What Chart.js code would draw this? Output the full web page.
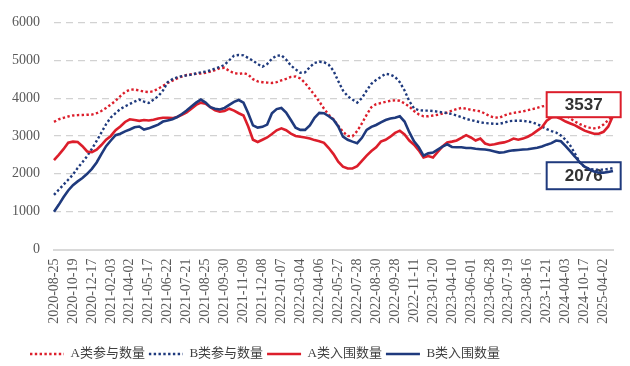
<!DOCTYPE html>
<html><head><meta charset="utf-8">
<script src="https://cdn.jsdelivr.net/npm/chart.js@4.4.1/dist/chart.umd.min.js"></script>
<style>html,body{margin:0;padding:0;background:#fff;}#wrap{width:630px;height:366px;}</style>
</head><body><div id="wrap"><canvas id="c" width="630" height="366"></canvas></div>
<script>
// ---- tick labels (dates shown on the x axis) ----
const tickLabels = ['2020-08-25','2020-10-19','2020-12-17','2021-02-03','2021-04-02','2021-05-17','2021-06-22','2021-07-21','2021-08-25','2021-09-30','2021-11-09','2021-12-08','2022-01-07','2022-03-04','2022-04-06','2022-05-27','2022-07-28','2022-08-30','2022-09-28','2022-11-11','2023-01-20','2023-04-10','2023-06-01','2023-06-28','2023-07-19','2023-08-16','2023-11-21','2024-04-03','2024-10-17','2025-04-02'];
const STEPS_PER_TICK = 4; // data points between two labelled dates
const seriesNames = ['A类参与数量','B类参与数量','A类入围数量','B类入围数量'];
const yTicks = [0,1000,2000,3000,4000,5000,6000];

// A类参与数量 (red dotted)
const aJoin = [3373,3440,3480,3515,3540,3550,3555,3560,3565,3600,3660,3740,3830,3930,4050,4160,4220,4230,4200,4170,4160,4180,4250,4320,
4400,4460,4520,4570,4610,4630,4640,4650,4670,4700,4740,4790,4800,4720,4660,4640,4660,4620,4500,4440,4420,4410,
4400,4420,4470,4510,4560,4570,4520,4400,4240,4080,3910,3720,3560,3440,3270,3110,3000,2990,3130,3330,3560,3760,3840,3870,
3900,3930,3940,3930,3860,3780,3660,3570,3520,3520,3540,3560,3590,3620,3670,3710,
3740,3720,3690,3670,3650,3590,3520,3490,3480,3540,3580,3610,3630,3650,3680,3710,3740,3780,3800,3790,3740,3640,3560,3460,3380,3310,3260,3220,3200,3220,3300,3420,3520];
// B类参与数量 (blue dotted)
const bJoin = [1443,1578,1711,1844,1978,2155,2307,2467,2662,2867,3089,3311,3489,3604,3711,3782,3844,3907,3960,3907,3870,3960,4049,4200,
4420,4500,4550,4580,4600,4620,4650,4680,4700,4730,4780,4820,4880,5000,5120,5140,5130,5060,4990,4900,4830,4900,
5040,5120,5130,5020,4860,4760,4670,4680,4820,4930,4960,4950,4880,4720,4450,4200,4050,3960,3880,4000,4200,4380,4480,4560,4640,4620,4560,4420,4200,3920,3730,3680,3670,3670,3660,3640,3620,3600,3580,3540,
3500,3450,3420,3390,3360,3340,3330,3320,3320,3350,3390,3400,3400,3400,3380,3360,3310,3250,3180,3130,3090,3010,2900,2740,2530,2300,2180,2130,2110,2110,2110,2130,2150];
// A类入围数量 (red solid)
const aEntry = [2360,2500,2650,2820,2850,2840,2730,2590,2570,2640,2760,2900,3000,3150,3250,3370,3440,3420,3400,3420,3410,3430,3460,3480,
3480,3470,3500,3560,3620,3720,3820,3880,3850,3760,3680,3640,3660,3720,3670,3600,3540,3250,2900,2840,2900,2960,
3050,3150,3200,3150,3060,3000,2980,2960,2930,2890,2860,
2820,2680,2520,2320,2190,2140,2140,2200,2340,2480,2600,2700,2850,
2900,2980,3080,3140,3040,2880,2770,2620,2430,2470,2430,2580,2720,2830,2850,2880,2950,3020,2960,2880,2930,2800,2760,
2780,2810,2830,2870,2930,2900,2930,2980,3050,3140,3230,3400,3490,3500,3450,3380,3330,3280,3210,3140,3100,3060,3060,3110,3250,3537];
// B类入围数量 (blue solid)
const bEntry = [1000,1180,1380,1560,1700,1800,1890,2000,2130,2300,2520,2730,2880,3020,3060,3120,3170,3230,3250,3170,3200,3250,3300,3380,
3410,3440,3500,3580,3670,3780,3880,3960,3880,3760,3720,3700,3740,3820,3900,3950,3880,3600,3280,3220,3240,3300,
3600,3710,3740,3620,3420,3220,3160,3160,3280,3480,3610,3600,3520,3430,3250,2980,2900,2850,2810,2950,3160,3240,3290,3360,
3420,3460,3480,3520,3380,3100,2860,2700,2480,2540,2560,2640,2720,2780,2710,2700,2700,2680,2680,2660,2650,2640,2620,
2590,2560,2570,2600,2620,2630,2640,2650,2670,2690,2720,2770,2810,2880,2860,2730,2590,2450,2300,2190,2120,2060,2030,2030,2050,2076];

const categories = aJoin.map((_, i) => (i % STEPS_PER_TICK === 0 && tickLabels[i / STEPS_PER_TICK]) || '');

const RED = '#DC1E2B', BLUE = '#1F3A7D';
const SERIF = "'Liberation Serif','Noto Sans CJK SC',serif";

// callouts anchored in data space (category index + value)
const callouts = {
  a: { text: String(aEntry[aEntry.length - 1]), startIndex: 104, centerValue: 3826, w: 74, h: 25, color: RED },
  b: { text: String(bEntry[bEntry.length - 1]), startIndex: 104, centerValue: 1949, w: 74, h: 27, color: BLUE }
};
function drawCallout(chart, c) {
  const xs = chart.scales.x, ys = chart.scales.y, ctx = chart.ctx;
  const left = xs.getPixelForValue(c.startIndex);
  const cy = ys.getPixelForValue(c.centerValue);
  ctx.save();
  ctx.fillStyle = '#fff';
  ctx.fillRect(left, cy - c.h / 2, c.w, c.h);
  ctx.lineWidth = 2;
  ctx.strokeStyle = c.color;
  ctx.strokeRect(left, cy - c.h / 2, c.w, c.h);
  ctx.fillStyle = '#333';
  ctx.font = "bold 17px 'Liberation Sans', Arial, sans-serif";
  ctx.textAlign = 'center';
  ctx.textBaseline = 'middle';
  ctx.fillText(c.text, left + c.w / 2, cy + 1);
  ctx.restore();
}
const calloutPlugin = {
  id: 'callouts',
  afterLayout(chart) { // nudge the legend row to the right, as in the reference
    const lg = chart.legend;
    if (lg) { lg.left += 20; lg.right += 20; }
  },
  beforeDatasetsDraw(chart) { drawCallout(chart, callouts.b); },
  afterDatasetsDraw(chart) { drawCallout(chart, callouts.a); }
};

const dotted = [2.4, 2.4];
new Chart(document.getElementById('c'), {
  type: 'line',
  data: {
    labels: categories,
    datasets: [
      { label: seriesNames[0], data: aJoin, borderColor: RED, backgroundColor: RED, borderWidth: 2.4, borderDash: dotted, pointRadius: 0, tension: 0, order: 4 },
      { label: seriesNames[1], data: bJoin, borderColor: BLUE, backgroundColor: BLUE, borderWidth: 2.4, borderDash: dotted, pointRadius: 0, tension: 0, order: 3 },
      { label: seriesNames[2], data: aEntry, borderColor: RED, backgroundColor: RED, borderWidth: 2.6, pointRadius: 0, tension: 0, order: 2 },
      { label: seriesNames[3], data: bEntry, borderColor: BLUE, backgroundColor: BLUE, borderWidth: 2.6, pointRadius: 0, tension: 0, order: 1 }
    ]
  },
  options: {
    responsive: false,
    animation: false,
    devicePixelRatio: 1,
    layout: { padding: { left: 6, right: 17, top: 21, bottom: -4.5 } },
    plugins: {
      tooltip: { enabled: false },
      legend: {
        position: 'bottom',
        align: 'start',
        labels: {
          usePointStyle: true, pointStyle: 'line', pointStyleWidth: 34,
          padding: 4, color: '#404040',
          font: { family: SERIF, size: 13 },
          sort: (a, b) => a.datasetIndex - b.datasetIndex,
          generateLabels(chart) {
            const items = Chart.defaults.plugins.legend.labels.generateLabels(chart);
            items.forEach(it => {
              const ds = chart.data.datasets[it.datasetIndex];
              it.lineDash = ds.borderDash || [];
              it.lineWidth = ds.borderWidth;
              it.strokeStyle = ds.borderColor;
              it.fillStyle = ds.borderColor;
              it.pointStyle = 'line';
            });
            return items;
          }
        }
      }
    },
    scales: {
      x: {
        type: 'category',
        offset: false,
        grid: { display: false, drawTicks: false },
        border: { display: true, color: '#d9d9d9', width: 2 },
        ticks: { autoSkip: false, maxRotation: 90, minRotation: 90, padding: 9, color: '#595959', font: { family: SERIF, size: 14 } },
        afterFit(s) { s.height = 94; s.paddingLeft = 0; s.paddingRight = 0; }
      },
      y: {
        min: 0, max: 6000,
        afterBuildTicks(s) { s.ticks = yTicks.map(v => ({ value: v })); },
        grid: { color: '#d2d2d2', lineWidth: 1.2, drawTicks: false, borderDash: [7, 5] },
        border: { display: false, dash: [7, 5] },
        ticks: { padding: 14, color: '#595959', font: { family: SERIF, size: 14 }, callback: v => String(v) },
        afterFit(s) { s.width = 48; }
      }
    }
  },
  plugins: [calloutPlugin]
});
</script>
</body></html>
